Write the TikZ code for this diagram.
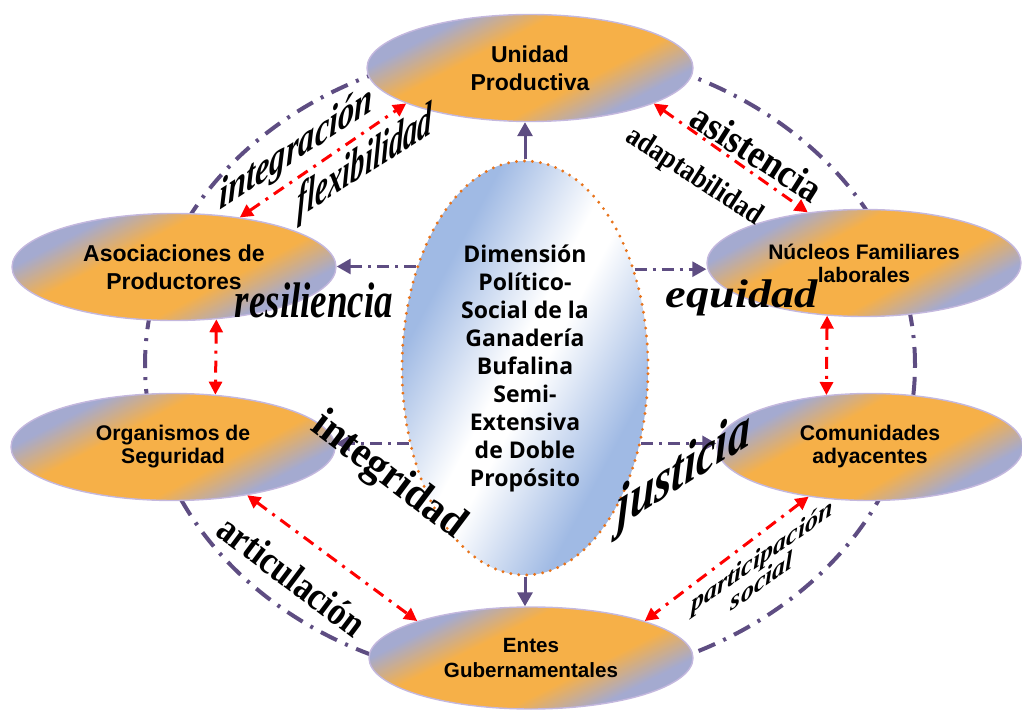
\documentclass[tikz,border=0pt]{standalone}
\usepackage{fontspec}
\setmainfont{Liberation Sans}
\newfontfamily\lblfont{Liberation Serif}
\newfontfamily\dimfont{Open Sans}
\usepackage{graphicx}
\usepackage{tikz}
\usetikzlibrary{arrows.meta,
                positioning,
                shapes.geometric}

\definecolor{purp}{RGB}{94,77,130}
\definecolor{dotor}{RGB}{232,115,26}
\definecolor{rimc}{RGB}{196,184,222}

\pgfdeclarefunctionalshading{lavorange}{\pgfpointorigin}{\pgfpoint{100bp}{100bp}}{}{
  exch 50 sub 25 div 0.847 mul
  exch 50 sub 25 div -0.531 mul add
  abs 0.4 sub 0.45 div
  dup 0 lt {pop 0} if
  dup 1 gt {pop 1} if
  dup -0.3216 mul 0.9647 add
  exch dup -0.0235 mul 0.6902 add
  exch 0.5333 mul 0.2824 add
}
\pgfdeclarefunctionalshading{bluewhite}{\pgfpointorigin}{\pgfpoint{100bp}{100bp}}{}{
  exch 50 sub 25 div 0.746 mul
  exch 50 sub 25 div -0.667 mul add
  abs 0.1 sub 0.7 div
  dup 0 lt {pop 0} if
  dup 1 gt {pop 1} if
  dup -0.373 mul 1 add
  exch dup -0.271 mul 1 add
  exch -0.106 mul 1 add
}

\newcommand\lbltext[3]{\fontsize{#1}{#1}\selectfont\scalebox{#2}[1]{#3}}

\begin{document}
\begin{tikzpicture}[x=0.5pt,y=-0.5pt,
  actor/.style={ellipse, shade, shading=lavorange, draw=rimc,
                line width=0.7pt, inner sep=0pt, align=center, minimum height=53.5pt},
  rel/.style={red, line width=1.5pt, dash pattern=on 6pt off 3.5pt on 1.5pt off 3.5pt,
              {Triangle[length=6.5pt,width=6.5pt]}-{Triangle[length=6.5pt,width=6.5pt]}},
  link/.style={purp, line width=1.5pt, dash pattern=on 6pt off 3pt on 1.5pt off 3pt,
               -{Triangle[length=7pt,width=7.5pt]}},
  ring/.style={ellipse, draw=purp, line width=2pt,
               dash pattern=on 9pt off 4.5pt on 1.5pt off 4.5pt},
  lblit/.style={inner sep=0pt, font=\lblfont\bfseries\itshape},
  lblup/.style={inner sep=0pt, font=\lblfont\bfseries}]
\useasboundingbox (0,0) rectangle (1022,710);

\node[ring, minimum width=385pt, minimum height=318pt] (rim) at (530,365) {};

\node[actor, minimum width=163pt, font=\bfseries\fontsize{11.5}{14}\selectfont] (up) at (530,68) {Unidad\\Productiva};
\node[actor, minimum width=162pt, font=\bfseries\fontsize{11.5}{14}\selectfont] (aso) at (174,267) {Asociaciones de\\Productores};
\node[actor, minimum width=157pt, font=\bfseries\fontsize{10.5}{11.5}\selectfont] (nuc) at (864,263) {Núcleos Familiares\\laborales};
\node[actor, minimum width=162pt, font=\bfseries\fontsize{10.6}{11.5}\selectfont] (org) at (173,447) {Organismos de\\Seguridad};
\node[actor, minimum width=153pt, font=\bfseries\fontsize{10.6}{11.5}\selectfont] (com) at (870,447) {Comunidades\\adyacentes};
\node[actor, minimum width=162pt, minimum height=51pt, font=\bfseries\fontsize{10.3}{12.5}\selectfont] (ent) at (531,658) {Entes\\Gubernamentales};

\node[ellipse, shade, shading=bluewhite, draw=dotor, line width=1.6pt,
      line cap=round, dash pattern=on 0pt off 4pt, minimum width=123pt, minimum height=207pt,
      inner sep=0pt, align=center, font=\dimfont\bfseries\fontsize{11.5}{14}\selectfont]
      (dim) at (525,368) {Dimensión\\Político-\\Social de la\\Ganadería\\Bufalina\\Semi-\\Extensiva\\de Doble\\Propósito};

\draw[link, solid] (dim.north) -- (dim.north |- up.south);
\draw[link, solid] (dim.south) -- (dim.south |- ent.north);
\foreach \a/\b in {137/aso.east, 42/nuc.west, 213/org.east, -33/com.west}
  \draw[link] (dim.\a) -- (dim.\a -| \b);

\foreach \a/\b in {aso.37/up.196, up.-16/nuc.138, aso.-51/org.51,
                   nuc.-125/com.130, org.-33/ent.162, com.-141/ent.18}
  \draw[rel] (\a) -- (\b);

\node[lblit, yslant=0.65] (integ) at (296,150) {\lbltext{22}{0.74}{integración}};
\node[lblit, yslant=0.63] (flex) at (365,164) {\lbltext{24}{0.6}{flexibilidad}};
\node[lblup, rotate=-32.5] (asis) at (757,153) {\lbltext{20}{0.9}{asistencia}};
\node[lblup, rotate=-33] (adap) at (694,177) {\lbltext{15}{0.88}{adaptabilidad}};
\node[lblit] (resil) at (314,300) {\lbltext{25}{0.74}{resiliencia}};
\node[lblit] (equi) at (742,298) {\lbltext{20}{1.16}{equidad}};
\node[lblup, rotate=-37] (integr) at (388,476) {\lbltext{22}{0.93}{integridad}};
\node[lblit, yslant=0.63] (just) at (684,472) {\lbltext{29}{0.76}{justicia}};
\node[lblup, rotate=-37] (artic) at (292,576) {\lbltext{20}{0.85}{articulación}};
\node[lblit, yslant=0.7, align=center, font=\lblfont\bfseries\itshape\fontsize{13}{12.5}\selectfont] (parti) at (762,568) {participación\\social};
\end{tikzpicture}
\end{document}
